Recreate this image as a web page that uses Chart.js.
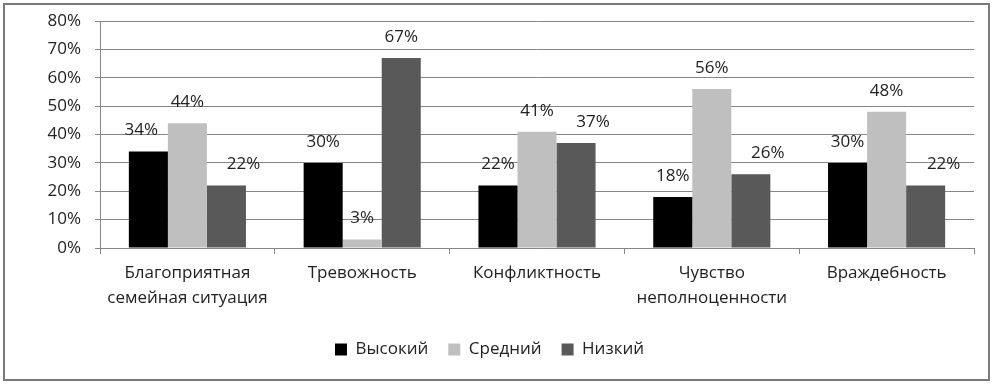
<!DOCTYPE html>
<html>
<head>
<meta charset="utf-8">
<script src="https://cdn.jsdelivr.net/npm/chart.js@4"></script>
<style>
  body { margin: 0; background: #fff; }
  #box { position: absolute; left: 3px; top: 3px; width: 983px; height: 374px; border: 2px solid #7a7a7a; }
  canvas { display: block; }
</style>
</head>
<body>
<div id="box"><canvas id="chart" width="983" height="374"></canvas></div>
<script>
const categories = [['Благоприятная', 'семейная ситуация'], 'Тревожность', 'Конфликтность', ['Чувство', 'неполноценности'], 'Враждебность'];
const high = [34, 30, 22, 18, 30];
const mid = [44, 3, 41, 56, 48];
const low = [22, 67, 37, 26, 22];
const yTicks = [0, 10, 20, 30, 40, 50, 60, 70, 80];

// small nudges of the value labels, as in the original
const labelNudge = [[-7, 0, 0, 0, 0], [0, 0, 0, 0, 0], [17, 0, 17, 17, 18]];

const FONT = "'Open Sans', sans-serif";

const valueLabels = {
  id: 'valueLabels',
  afterDatasetsDraw(chart) {
    const c = chart.ctx;
    c.save();
    c.font = '17px ' + FONT;
    c.fillStyle = '#222';
    c.textAlign = 'center';
    c.textBaseline = 'middle';
    chart.data.datasets.forEach((ds, i) => {
      chart.getDatasetMeta(i).data.forEach((bar, j) => {
        c.fillText(ds.data[j] + '%', bar.x + labelNudge[i][j], bar.y - 21);
      });
    });
    c.restore();
  }
};

new Chart(document.getElementById('chart'), {
  type: 'bar',
  data: {
    labels: categories,
    datasets: [
      { label: 'Высокий', data: high, backgroundColor: '#000000' },
      { label: 'Средний', data: mid, backgroundColor: '#bfbfbf' },
      { label: 'Низкий', data: low, backgroundColor: '#595959' }
    ]
  },
  options: {
    responsive: false,
    animation: false,
    layout: { padding: { top: 16, right: 14, bottom: 11, left: 0 } },
    datasets: { bar: { categoryPercentage: 0.67, barPercentage: 1.0 } },
    plugins: {
      tooltip: { enabled: false },
      legend: {
        position: 'bottom',
        labels: {
          boxWidth: 12, boxHeight: 12, padding: 20,
          color: '#222',
          font: { family: FONT, size: 17 }
        }
      }
    },
    scales: {
      x: {
        afterFit: s => { s.height = 73; },
        grid: { drawOnChartArea: false, drawTicks: true, tickLength: 6, offset: true, color: '#868686' },
        border: { color: '#868686' },
        ticks: { color: '#222', font: { family: FONT, size: 17, lineHeight: 1.5 }, padding: 6, maxRotation: 0 }
      },
      y: {
        min: 0, max: 80,
        afterFit: s => { s.width = 95; s.paddingTop = 0; s.paddingBottom = 0; },
        afterBuildTicks: s => { s.ticks = yTicks.map(v => ({ value: v })); },
        grid: { color: '#868686', tickLength: 5 },
        border: { color: '#868686' },
        ticks: { color: '#222', font: { family: FONT, size: 17 }, padding: 14, callback: v => v + '%' }
      }
    }
  },
  plugins: [valueLabels]
});
</script>
</body>
</html>
